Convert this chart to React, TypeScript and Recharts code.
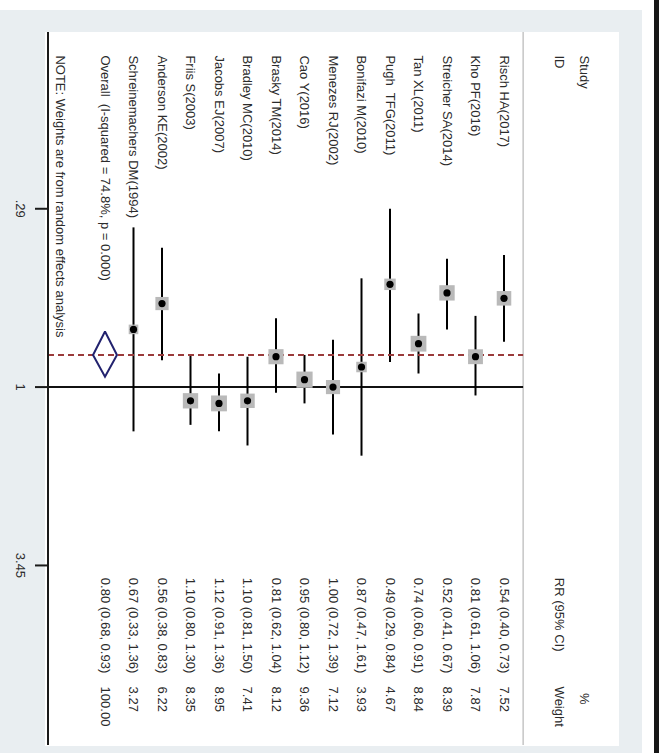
import React from 'react';
import { ComposedChart, XAxis, YAxis, Scatter, Line, ReferenceLine, ErrorBar } from 'recharts';

// ---------- data ----------
const STUDIES = [
  'Risch HA(2017)',
  'Kho PF(2016)',
  'Streicher SA(2014)',
  'Tan XL(2011)',
  'Pugh  TFG(2011)',
  'Bonifazi M(2010)',
  'Menezes RJ(2002)',
  'Cao Y(2016)',
  'Brasky TM(2014)',
  'Bradley MC(2010)',
  'Jacobs EJ(2007)',
  'Friis S(2003)',
  'Anderson KE(2002)',
  'Schreinemachers DM(1994)',
];
const RR = [0.54, 0.81, 0.52, 0.74, 0.49, 0.87, 1.0, 0.95, 0.81, 1.1, 1.12, 1.1, 0.56, 0.67];
const LOWER = [0.4, 0.61, 0.41, 0.6, 0.29, 0.47, 0.72, 0.8, 0.62, 0.81, 0.91, 0.8, 0.38, 0.33];
const UPPER = [0.73, 1.06, 0.67, 0.91, 0.84, 1.61, 1.39, 1.12, 1.04, 1.5, 1.36, 1.3, 0.83, 1.36];
const WEIGHTS = [7.52, 7.87, 8.39, 8.84, 4.67, 3.93, 7.12, 9.36, 8.12, 7.41, 8.95, 8.35, 6.22, 3.27];

const OVERALL_RR = 0.8;
const OVERALL_LO = 0.68;
const OVERALL_HI = 0.93;
const OVERALL_W = 100.0;
const OVERALL_LABEL = 'Overall  (I-squared = 74.8%, p = 0.000)';
const NOTE_LABEL = 'NOTE: Weights are from random effects analysis';

const AXIS_TICKS = [0.29, 1, 3.45];
const TICK_LABELS = ['.29', '1', '3.45'];

const HEADER_LINE1 = ['Study', '%'];
const HEADER_LINE2 = ['ID', 'RR (95% CI)', 'Weight'];

// ---------- layout constants (axis units) ----------
const FONT = '"Liberation Sans", Arial, Helvetica, sans-serif';
const TEXT_COLOR = '#2b2b2b';
const ROW_DOMAIN: [number, number] = [-4, 16];
const RR_DOMAIN: [number, number] = [0.085, 12];
const SEP = -0.67;
const HEAD1_POS = -2.82;
const HEAD2_POS = -1.93;
const OVERALL_POS = STUDIES.length;
const NOTE_POS = STUDIES.length + 1.55;
const COL_STUDY = 0.1;
const COL_RR = 3.76;
const COL_W = 8.0;
const COL_PCT = 8.36;
const SQ_K = 5.3;
const DIA_HALF = 0.42;

const fmt = (v: number) => v.toFixed(2);

const studyRows = STUDIES.map((_, i) => ({
  pos: i,
  rr: RR[i],
  w: WEIGHTS[i],
  err: [RR[i] - LOWER[i], UPPER[i] - RR[i]],
}));

const textRows = [
  { pos: HEAD1_POS, v: COL_STUDY, text: HEADER_LINE1[0] },
  { pos: HEAD1_POS, v: COL_PCT, text: HEADER_LINE1[1] },
  { pos: HEAD2_POS, v: COL_STUDY, text: HEADER_LINE2[0] },
  { pos: HEAD2_POS, v: COL_RR, text: HEADER_LINE2[1] },
  { pos: HEAD2_POS, v: COL_W, text: HEADER_LINE2[2] },
  ...STUDIES.map((s, i) => ({ pos: i, v: COL_STUDY, text: s })),
  ...STUDIES.map((_, i) => ({
    pos: i,
    v: COL_RR,
    text: `${fmt(RR[i])} (${fmt(LOWER[i])}, ${fmt(UPPER[i])})`,
  })),
  ...STUDIES.map((_, i) => ({ pos: i, v: COL_W, text: fmt(WEIGHTS[i]) })),
  { pos: OVERALL_POS, v: COL_STUDY, text: OVERALL_LABEL },
  { pos: OVERALL_POS, v: COL_RR, text: `${fmt(OVERALL_RR)} (${fmt(OVERALL_LO)}, ${fmt(OVERALL_HI)})` },
  { pos: OVERALL_POS, v: COL_W, text: fmt(OVERALL_W) },
  { pos: NOTE_POS, v: COL_STUDY, text: NOTE_LABEL },
];

const diamondRows = [
  { pos: OVERALL_POS, d: OVERALL_LO },
  { pos: OVERALL_POS - DIA_HALF, d: OVERALL_RR },
  { pos: OVERALL_POS, d: OVERALL_HI },
  { pos: OVERALL_POS + DIA_HALF, d: OVERALL_RR },
  { pos: OVERALL_POS, d: OVERALL_LO },
];

// ---------- shapes ----------
const SquareShape = (p: any) => {
  const s = SQ_K * Math.sqrt(p.payload.w);
  return <rect x={p.cx - s / 2} y={p.cy - s / 2} width={s} height={s} fill="#b9b9b9" />;
};
const DotShape = (p: any) => <circle cx={p.cx} cy={p.cy} r={3.6} fill="#000" />;
const TextShape = (p: any) => (
  <text
    x={p.cx}
    y={p.cy}
    transform={`rotate(90 ${p.cx} ${p.cy})`}
    dominantBaseline="central"
    fontFamily={FONT}
    fontSize={13}
    fill={TEXT_COLOR}
    style={{ whiteSpace: 'pre' }}
  >
    {p.payload.text}
  </text>
);
const TickLabel = (p: any) => {
  const idx = AXIS_TICKS.indexOf(p.payload.value);
  return (
    <text
      x={p.x}
      y={p.y}
      transform={`rotate(90 ${p.x} ${p.y})`}
      textAnchor="middle"
      dominantBaseline="central"
      fontFamily={FONT}
      fontSize={13}
      fill={TEXT_COLOR}
    >
      {idx >= 0 ? TICK_LABELS[idx] : String(p.payload.value)}
    </text>
  );
};

export default function App() {
  return (
    <div style={{ position: 'absolute', left: 0, top: 0, width: 659, height: 753, background: '#fff', overflow: 'hidden' }}>
      <div style={{ position: 'absolute', left: 0, top: 10, width: 642, height: 743, background: '#e9eef1' }} />
      <div style={{ position: 'absolute', left: 45, top: 32, width: 574, height: 714, background: '#fff' }} />
      <div style={{ position: 'absolute', left: 654, top: 0, width: 5, height: 753, background: '#161616' }} />
      <div style={{ position: 'absolute', left: 0, top: 0 }}>
        <ComposedChart width={659} height={753} margin={{ top: 32, right: 41, bottom: 8, left: 0 }}>
          <XAxis type="number" dataKey="pos" domain={ROW_DOMAIN} reversed hide allowDataOverflow />
          <YAxis
            type="number"
            scale="log"
            domain={RR_DOMAIN}
            reversed
            allowDataOverflow
            ticks={AXIS_TICKS}
            interval={0}
            width={48}
            tickSize={13}
            tickMargin={15}
            axisLine={{ stroke: '#1a1a1a', strokeWidth: 2 }}
            tickLine={{ stroke: '#1a1a1a', strokeWidth: 2 }}
            tick={<TickLabel />}
          />
          <ReferenceLine x={SEP} stroke="#a8a8a8" strokeWidth={1} />
          <ReferenceLine
            segment={[{ x: ROW_DOMAIN[1], y: 1 }, { x: SEP, y: 1 }]}
            stroke="#111"
            strokeWidth={2}
          />
          <Scatter data={studyRows} dataKey="rr" shape={<SquareShape />} isAnimationActive={false} />
          <Scatter data={studyRows} dataKey="rr" shape={<DotShape />} isAnimationActive={false}>
            <ErrorBar dataKey="err" direction="y" width={0} stroke="#000" strokeWidth={2} />
          </Scatter>
          <ReferenceLine
            segment={[{ x: ROW_DOMAIN[1], y: OVERALL_RR }, { x: SEP, y: OVERALL_RR }]}
            stroke="#9a3b3b"
            strokeWidth={2}
            strokeDasharray="6 4"
          />
          <Line
            data={diamondRows}
            dataKey="d"
            type="linear"
            stroke="#22226e"
            strokeWidth={2}
            dot={false}
            activeDot={false}
            isAnimationActive={false}
          />
          <Scatter data={textRows} dataKey="v" shape={<TextShape />} isAnimationActive={false} />
        </ComposedChart>
      </div>
    </div>
  );
}
